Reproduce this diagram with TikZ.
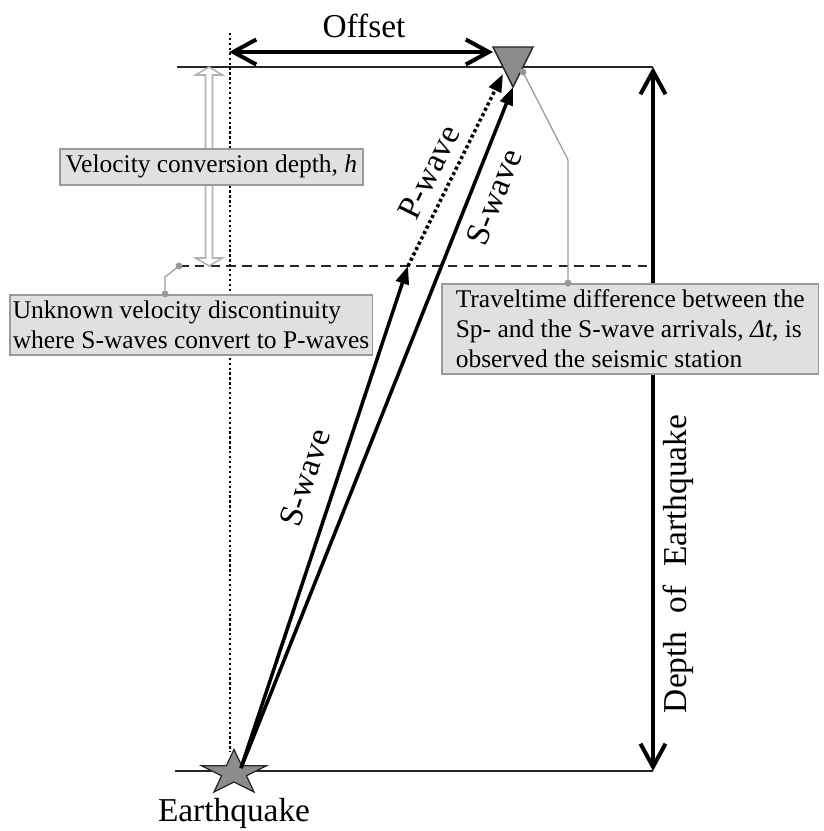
\documentclass[tikz,border=0pt]{standalone}
\usepackage{fontspec}
\setmainfont{Liberation Serif}
\usepackage{xcolor}
\usetikzlibrary{arrows.meta, calc, shapes.geometric}

\definecolor{boxfill}{gray}{0.88}
\definecolor{boxline}{gray}{0.6}

\begin{document}
\begin{tikzpicture}[x=0.02cm, y=-0.02cm,
  surf/.style={draw=black!85, line width=1.1pt},
  ray/.style={line width=2pt, -{Triangle[length=0.36cm,width=0.26cm]}},
  dimline/.style={line width=2.3pt, {Straight Barb[length=0.46cm,width=0.5cm]}-{Straight Barb[length=0.46cm,width=0.5cm]}},
  lbl/.style={font=\fontsize{19}{22}\selectfont, inner sep=0pt},
  box/.style={draw=boxline, fill=boxfill, line width=0.9pt, font=\fontsize{14.5}{17}\selectfont, align=left, anchor=north west},
  pin/.style={draw=boxline, line width=0.7pt},
  pindot/.style={circle, fill=boxline, inner sep=0pt, minimum size=0.14cm}
]
\useasboundingbox (0,0) rectangle (823,831);

% surface, conversion level and bottom
\coordinate (topL) at (177,67);
\coordinate (topR) at (653,67);
\coordinate (botL) at (175,771);
\coordinate (botR) at (653,771);
\coordinate (dashL) at (179,266);
\coordinate (dashR) at (653,266);
\draw[surf] (topL) -- (topR);
\draw[surf] (botL) -- (botR);
\draw[surf, line width=0.9pt, dash pattern=on 5.5pt off 3.5pt] (dashL) -- (dashR);

% vertical above the epicentre
\coordinate (vtop) at (230,33);
\coordinate (vbot) at (230,752);
\draw[line width=1.6pt, dash pattern=on 1.3pt off 1.5pt] (vtop) -- (vbot);

% hollow arrow for h
\coordinate (htop) at (209,67);
\coordinate (hbot) at (209,266);
\draw[draw=black!30, fill=white, line width=0.9pt] (htop) -- ++(13.5,8) -- ++(-10,0) -- ($(hbot)+(3.5,-8)$) -- ++(10,0) -- (hbot) -- ++(-13.5,-8) -- ++(10,0) -- ($(htop)+(-3.5,8)$) -- ++(-10,0) -- cycle;

% station
\coordinate (stn) at (513,87);
\filldraw[fill=black!45, draw=black!85, line width=0.8pt] (493,47) -- (533,47) -- (stn) -- cycle;

% offset and depth
\coordinate (offL) at (229,52);
\coordinate (offR) at (493,52);
\draw[dimline] (offL) -- (offR);
\node[lbl] (offset) at (364,26) {Offset};
\draw[dimline] (topR) -- (botR);
\node[lbl, rotate=90] (depth) at (678,564) {Depth\hspace{0.3em} of\hspace{0.3em} Earthquake};

% earthquake
\node[star, star points=5, star point ratio=2.6, minimum size=0.94cm, inner sep=0pt, xscale=1.45, draw=black!85, fill=black!45, line width=0.7pt] (eq) at (234,773) {};
\node[lbl] (eqlbl) at (234,813) {Earthquake};

% rays
\coordinate (hypo) at (241,768);
\coordinate (conv) at (408,266);
\coordinate (stnP) at (503,74);
\draw[ray] (hypo) -- (conv);
\draw[ray, dash pattern=on 1.8pt off 1.6pt] (conv) -- (stnP);
\draw[ray] (hypo) -- (stn);
\node[lbl, rotate=71.7] (slbl) at (305,478) {S-wave};
\node[lbl, rotate=63.7] (plbl) at (429,172) {P-wave};
\node[lbl, rotate=68.3] (s2lbl) at (494,197) {S-wave};

% boxes
\node[box, minimum width=6cm, minimum height=0.72cm, align=center] (hbox) at (59,148) {Velocity conversion depth, \textit{h}};
\node[box, inner xsep=0.06cm, minimum height=1.2cm] (unk) at (9,294) {Unknown velocity discontinuity\\where S-waves convert to P-waves};
\node[box, inner xsep=0.28cm, minimum height=1.8cm] (dt) at (441,283) {Traveltime difference between the\\Sp- and the S-wave arrivals, \textit{Δt}, is\\observed the seismic station};

% pins
\coordinate (ubend) at (165,277);
\draw[pin] (ubend |- unk.north) -- (ubend) -- (dashL);
\node[pindot] (udot) at (ubend |- unk.north) {};
\node[pindot] (ddot) at (dashL) {};
\coordinate (tbend) at (568,160);
\coordinate (stndot) at (523,72);
\draw[pin] (tbend |- dt.north) -- (tbend) -- (stndot);
\node[pindot] (tdot) at (tbend |- dt.north) {};
\node[pindot] (sdot) at (stndot) {};
\end{tikzpicture}
\end{document}
